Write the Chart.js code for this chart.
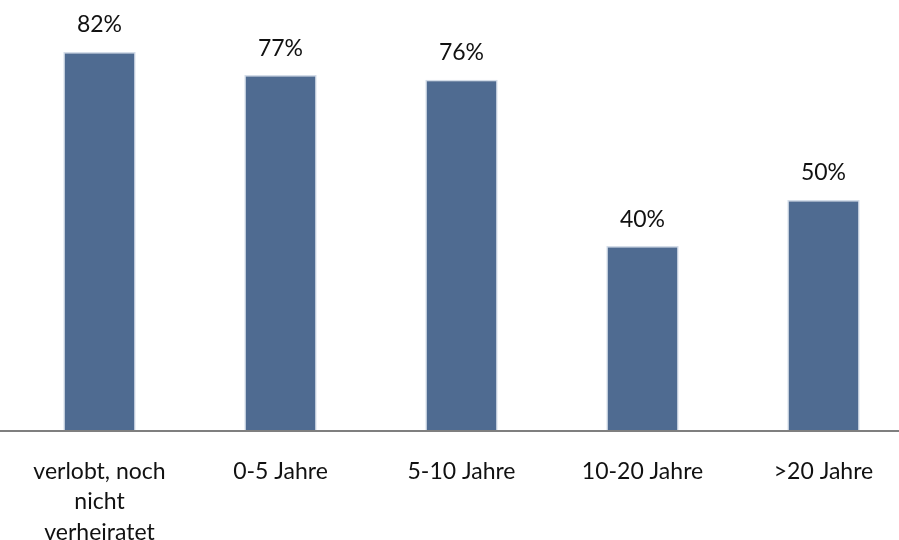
<!DOCTYPE html>
<html>
<head>
<meta charset="utf-8">
<script src="https://cdn.jsdelivr.net/npm/chart.js@4"></script>
<style>
  html, body { margin: 0; padding: 0; background: #fff; overflow: hidden; }
  #wrap { width: 914px; height: 540px; }
</style>
</head>
<body>
<div id="wrap"><canvas id="myChart" width="914" height="540"></canvas></div>
<script>
// Kategorien und Werte
var categories = [['verlobt, noch', 'nicht', 'verheiratet'], '0-5 Jahre', '5-10 Jahre', '10-20 Jahre', '>20 Jahre'];
var values = [82, 77, 76, 40, 50];

var barColor = '#4f6b91';
var fontFamily = 'Lato, "Open Sans", sans-serif';

// Prozentwerte über den Balken
var valueLabels = {
	id: 'valueLabels',
	afterDatasetsDraw: function(chart) {
		var ctx = chart.ctx;
		var meta = chart.getDatasetMeta(0);
		ctx.save();
		ctx.fillStyle = '#111';
		ctx.font = '23px ' + fontFamily;
		ctx.textAlign = 'center';
		ctx.textBaseline = 'middle';
		meta.data.forEach(function(bar, i) {
			ctx.fillText(values[i] + '%', bar.x, bar.y - 27);
		});
		ctx.restore();
	}
};

// Grundlinie über die ganze Breite
var baseLine = {
	id: 'baseLine',
	afterDatasetsDraw: function(chart) {
		var ctx = chart.ctx;
		var y = chart.scales.y.getPixelForValue(0);
		ctx.save();
		ctx.strokeStyle = '#7f7f7f';
		ctx.lineWidth = 2;
		ctx.beginPath();
		ctx.moveTo(0, y);
		ctx.lineTo(chart.width, y);
		ctx.stroke();
		ctx.restore();
	}
};

var ctx = document.getElementById('myChart').getContext('2d');
var myChart = new Chart(ctx, {
	type: 'bar',
	data: {
		labels: categories,
		datasets: [{
			data: values,
			backgroundColor: barColor,
			borderColor: '#d3dce8',
			borderWidth: 1.5,
			barPercentage: 0.8,
			categoryPercentage: 0.5
		}]
	},
	options: {
		responsive: false,
		animation: false,
		layout: { padding: { left: 9, top: 15, right: 0, bottom: 0 } },
		plugins: {
			legend: { display: false },
			tooltip: { enabled: false }
		},
		scales: {
			y: {
				display: false,
				min: 0,
				max: 90
			},
			x: {
				grid: { display: false },
				border: { display: false },
				afterFit: function(scale) { scale.height = 109; },
				ticks: {
					color: '#111',
					font: { family: fontFamily, size: 23, lineHeight: 1.33 },
					padding: 17,
					maxRotation: 0,
					autoSkip: false
				}
			}
		}
	},
	plugins: [valueLabels, baseLine]
});
</script>
</body>
</html>
